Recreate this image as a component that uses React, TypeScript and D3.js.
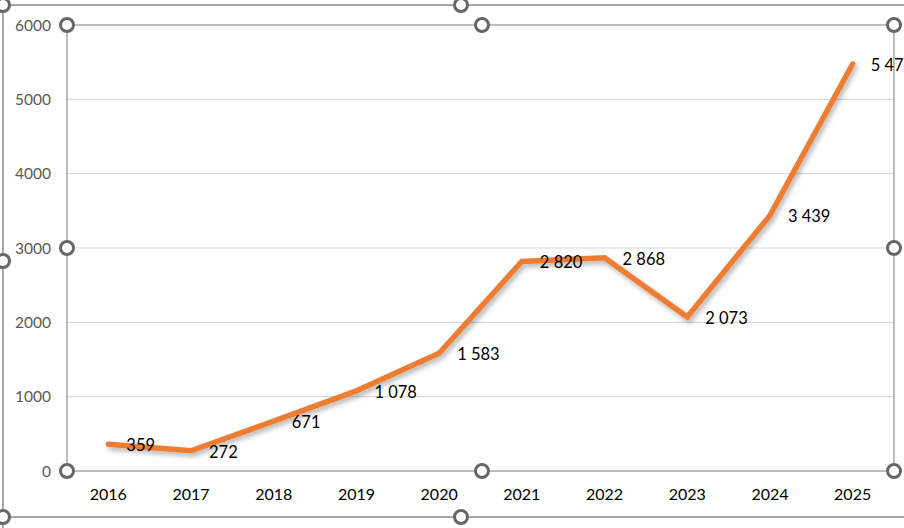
import React, { useEffect, useRef } from 'react';
import * as d3 from 'd3';

const years = ['2016', '2017', '2018', '2019', '2020', '2021', '2022', '2023', '2024', '2025'];
const values = [359, 272, 671, 1078, 1583, 2820, 2868, 2073, 3439, 5475];
const yTicks = [0, 1000, 2000, 3000, 4000, 5000, 6000];

const WIDTH = 904;
const HEIGHT = 528;
const FONT = 'Lato, "Open Sans", sans-serif';

const App: React.FC = () => {
    const svgRef = useRef<SVGSVGElement | null>(null);

    useEffect(() => {
        if (!svgRef.current) return;
        const svg = d3.select(svgRef.current);
        svg.selectAll('*').remove();

        // plot area box
        const plot = { left: 67, top: 25, right: 894, bottom: 471 };

        const x = d3
            .scalePoint<string>()
            .domain(years)
            .range([plot.left, plot.right])
            .padding(0.5);

        const y = d3.scaleLinear().domain([0, 6000]).range([plot.bottom, plot.top]);

        // soft drop shadow for the series line
        const defs = svg.append('defs');
        const shadow = defs
            .append('filter')
            .attr('id', 'line-shadow')
            .attr('x', '-10%')
            .attr('y', '-10%')
            .attr('width', '120%')
            .attr('height', '130%');
        shadow
            .append('feDropShadow')
            .attr('dx', 2)
            .attr('dy', 3)
            .attr('stdDeviation', 2.5)
            .attr('flood-color', '#000')
            .attr('flood-opacity', 0.3);

        svg.append('rect').attr('width', WIDTH).attr('height', HEIGHT).attr('fill', '#fff');

        // outer chart frame (selected)
        svg
            .append('path')
            .attr('d', `M3,${HEIGHT + 5} V5 H${WIDTH + 5} M3,517 H${WIDTH + 5}`)
            .attr('fill', 'none')
            .attr('stroke', '#8c8c8c')
            .attr('stroke-width', 1.5);

        // gridlines
        svg
            .append('g')
            .selectAll('line')
            .data(yTicks.slice(1, -1))
            .enter()
            .append('line')
            .attr('x1', plot.left)
            .attr('x2', plot.right)
            .attr('y1', (d) => y(d))
            .attr('y2', (d) => y(d))
            .attr('stroke', '#d9d9d9')
            .attr('stroke-width', 1.2);

        // plot area border
        svg
            .append('rect')
            .attr('x', plot.left)
            .attr('y', plot.top)
            .attr('width', plot.right - plot.left)
            .attr('height', plot.bottom - plot.top)
            .attr('fill', 'none')
            .attr('stroke', '#a6a6a6')
            .attr('stroke-width', 1.5);

        // y axis labels
        svg
            .append('g')
            .selectAll('text')
            .data(yTicks)
            .enter()
            .append('text')
            .attr('x', 51)
            .attr('y', (d) => y(d))
            .attr('dy', '0.36em')
            .attr('text-anchor', 'end')
            .attr('font-family', FONT)
            .attr('font-size', 15.5)
            .attr('fill', '#595959')
            .text((d) => String(d));

        // x axis labels
        svg
            .append('g')
            .selectAll('text')
            .data(years)
            .enter()
            .append('text')
            .attr('x', (d) => x(d) as number)
            .attr('y', 494)
            .attr('dy', '0.36em')
            .attr('text-anchor', 'middle')
            .attr('font-family', FONT)
            .attr('font-size', 16)
            .attr('fill', '#000')
            .text((d) => d);

        // series line
        const line = d3
            .line<number>()
            .x((_, i) => x(years[i]) as number)
            .y((d) => y(d));

        svg
            .append('path')
            .datum(values)
            .attr('d', line)
            .attr('fill', 'none')
            .attr('stroke', '#ED7D31')
            .attr('stroke-width', 5.5)
            .attr('stroke-linecap', 'round')
            .attr('stroke-linejoin', 'miter')
            .attr('filter', 'url(#line-shadow)');

        // data labels to the right of each point, space as thousands separator
        const fmt = (v: number) => {
            const s = String(v);
            return s.length > 3 ? s.slice(0, s.length - 3) + '\u00A0' + s.slice(-3) : s;
        };

        svg
            .append('g')
            .selectAll('text')
            .data(values)
            .enter()
            .append('text')
            .attr('x', (_, i) => (x(years[i]) as number) + 18)
            .attr('y', (d) => y(d) + 1)
            .attr('dy', '0.36em')
            .attr('font-family', FONT)
            .attr('font-size', 16.5)
            .attr('fill', '#000')
            .text((d) => fmt(d));

        // selection handles
        const handles: [number, number][] = [
            [3, 5], [461, 5], [3, 261], [461, 517], [3, 517],
            [plot.left, plot.top], [482, plot.top], [plot.right, plot.top],
            [plot.left, 248], [plot.right, 248],
            [plot.left, plot.bottom], [482, plot.bottom], [plot.right, plot.bottom],
        ];
        svg
            .append('g')
            .selectAll('circle')
            .data(handles)
            .enter()
            .append('circle')
            .attr('cx', (d) => d[0])
            .attr('cy', (d) => d[1])
            .attr('r', 6.5)
            .attr('fill', '#fff')
            .attr('stroke', '#666')
            .attr('stroke-width', 3);
    }, []);

    return (
        <svg
            ref={svgRef}
            width={WIDTH}
            height={HEIGHT}
            style={{ position: 'fixed', left: 0, top: 0, display: 'block' }}
        />
    );
};

export default App;
